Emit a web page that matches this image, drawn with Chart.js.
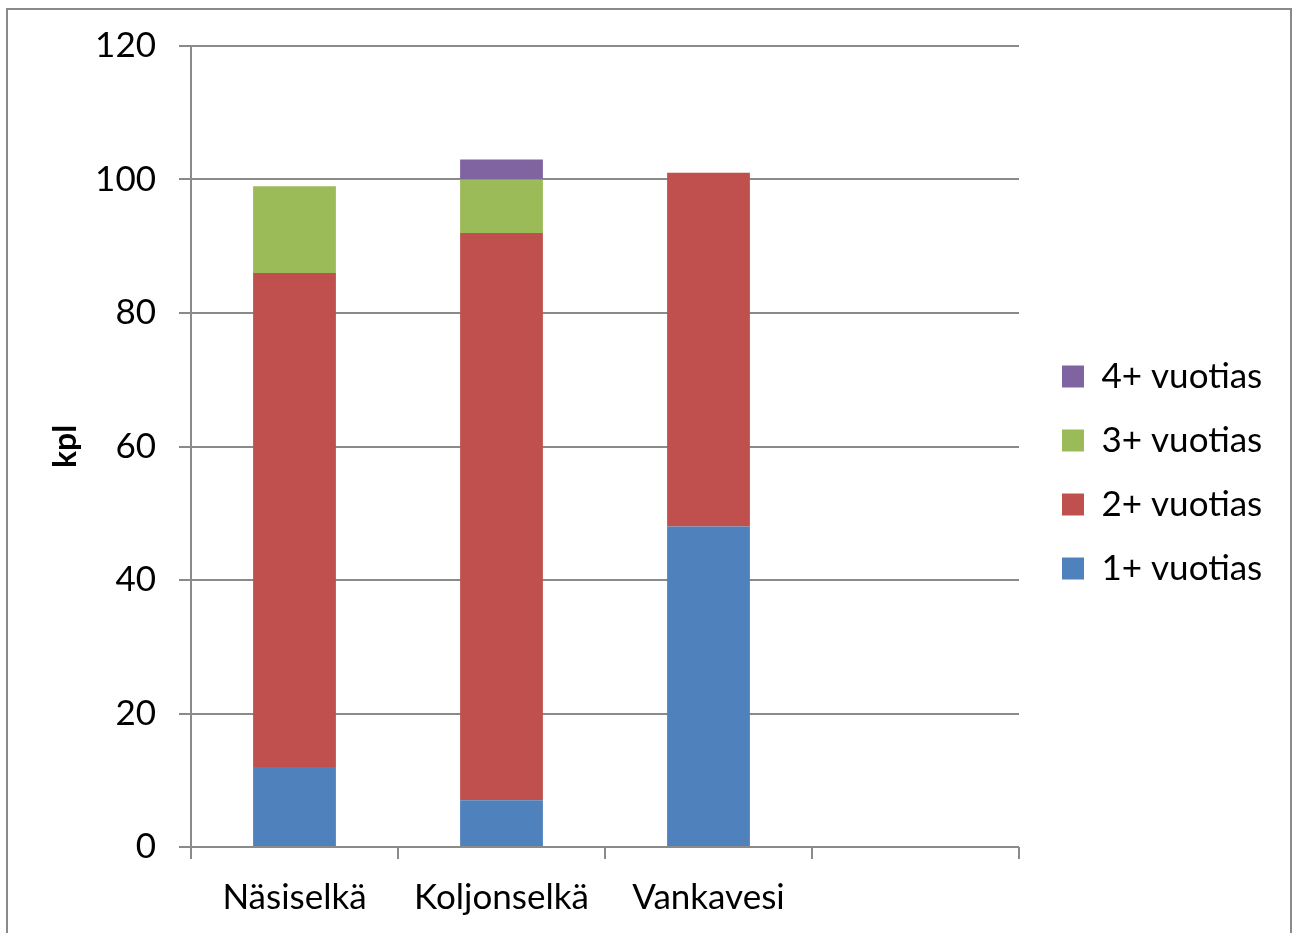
<!DOCTYPE html>
<html>
<head>
<meta charset="utf-8">
<script src="https://cdn.jsdelivr.net/npm/chart.js@4.4.1/dist/chart.umd.min.js"></script>
<style>
    body { margin: 0; background: #fff; }
    #frame { position: absolute; left: 6px; top: 8px; width: 1282px; height: 960px; border: 2px solid #8a8a8a; border-bottom: none; }
    #wrap { position: absolute; left: 0; top: 0; width: 1293px; height: 933px; overflow: hidden; }
</style>
</head>
<body>
<div id="wrap">
    <div id="frame"></div>
    <canvas id="Chart" width="1293" height="933" style="position:absolute;left:0;top:0;"></canvas>
</div>
<script>
// data
const categories = ['Näsiselkä', 'Koljonselkä', 'Vankavesi', ''];
const age1 = [12, 7, 48, 0];
const age2 = [74, 85, 53, 0];
const age3 = [13, 8, 0, 0];
const age4 = [0, 3, 0, 0];
const seriesNames = ['1+ vuotias', '2+ vuotias', '3+ vuotias', '4+ vuotias'];
const yTicks = [0, 20, 40, 60, 80, 100, 120];

const FONT = 'Lato, "Open Sans", sans-serif';
const gridColor = '#8a8a8a';

// keep the legend at a fixed width and place it like the original
const legendFix = {
    id: 'legendFix',
    beforeLayout(chart) {
        const lg = chart.legend;
        if (lg && !lg._fixed) {
            const fit = lg.fit;
            lg.fit = function () {
                fit.call(this);
                this.width = 274;
            };
            lg._fixed = true;
        }
    },
    afterLayout(chart) {
        const lg = chart.legend;
        const pad = lg.options.labels.padding;
        lg.left = 1062 - pad;
        lg.right = lg.left + 274;
        lg.top = 359 - pad;
        lg.bottom = lg.top + pad + 256;
    }
};

function generateChart() {
    const ctx = document.getElementById('Chart').getContext('2d');
    const colors = ['#4F81BD', '#C0504D', '#9BBB59', '#8064A2'];
    const values = [age1, age2, age3, age4];
    new Chart(ctx, {
        type: 'bar',
        data: {
            labels: categories,
            datasets: values.map((v, i) => ({
                label: seriesNames[i],
                data: v,
                backgroundColor: colors[i],
                borderWidth: 0,
                barPercentage: 0.4,
                categoryPercentage: 1
            }))
        },
        options: {
            responsive: false,
            animation: false,
            layout: { padding: { top: 46, left: 0, right: 0, bottom: 0 } },
            scales: {
                x: {
                    stacked: true,
                    offset: true,
                    grid: { offset: true, drawOnChartArea: false, color: gridColor, lineWidth: 2, tickLength: 12 },
                    border: { display: false },
                    ticks: { color: '#000', font: { family: FONT, size: 35 }, padding: 18, maxRotation: 0 },
                    afterFit(scale) { scale.height = 86; }
                },
                y: {
                    stacked: true,
                    min: 0,
                    max: 120,
                    afterBuildTicks(scale) { scale.ticks = yTicks.map(v => ({ value: v })); },
                    grid: { color: gridColor, lineWidth: 2, tickLength: 12 },
                    border: { color: gridColor, width: 2 },
                    ticks: { color: '#000', font: { family: FONT, size: 35 }, padding: 23 },
                    title: { display: true, text: 'kpl', color: '#000', font: { family: FONT, size: 32, weight: 'bold' }, padding: { top: 46, bottom: 0 } },
                    afterFit(scale) { scale.width = 191; }
                }
            },
            plugins: {
                legend: {
                    position: 'right',
                    reverse: true,
                    labels: { color: '#000', font: { family: FONT, size: 35 }, boxWidth: 22, boxHeight: 22, padding: 29 }
                },
                tooltip: { enabled: false }
            }
        },
        plugins: [legendFix]
    });
}

generateChart();
</script>
</body>
</html>
